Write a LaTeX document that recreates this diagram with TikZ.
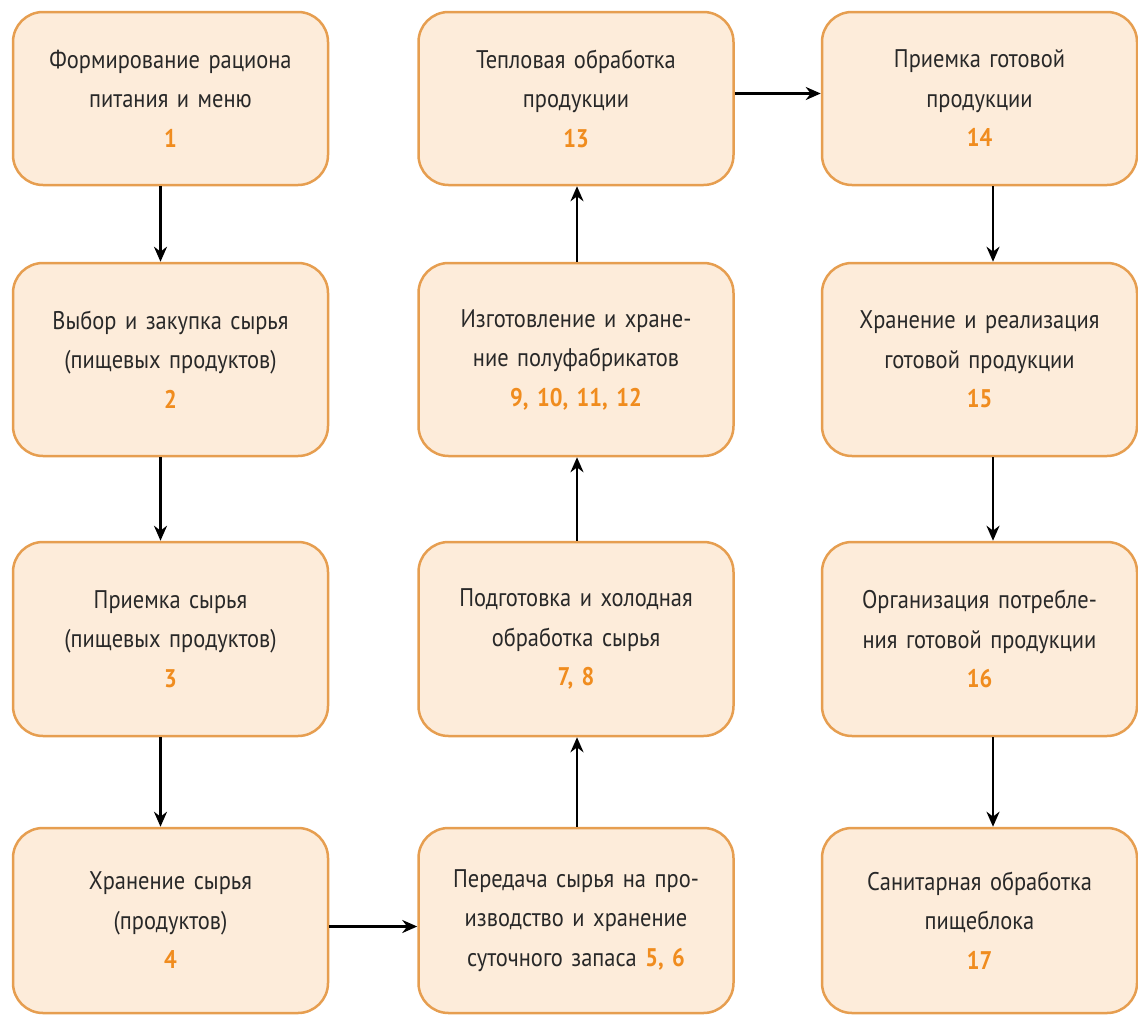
\documentclass[tikz,border=0pt]{standalone}
\usepackage{fontspec}
\setmainfont{PT Sans}[FakeStretch=0.88]
\usetikzlibrary{arrows.meta}
\definecolor{boxfill}{RGB}{253,236,218}
\definecolor{boxdraw}{RGB}{230,158,80}
\definecolor{numcol}{RGB}{240,140,30}
\definecolor{txtcol}{RGB}{40,40,40}
\newcommand\numb[1]{\textbf{\color{numcol}#1}}
\begin{document}
\begin{tikzpicture}[x=1pt,y=-1pt,
  box/.style={draw=boxdraw, fill=boxfill, line width=2.5pt, rounded corners=30pt,
    minimum width=315pt, text width=300pt, align=center, inner sep=0pt,
    font=\fontsize{25.5}{39.5}\selectfont, text=txtcol},
  arr/.style={-{Stealth[length=15pt,width=13pt]}, line width=2.8pt, black}]
\useasboundingbox (0,0) rectangle (1138,1017);
\node[box, minimum height=173pt] (n1) at (170.5,98.5) {Формирование рациона\\питания и меню\\\numb{1}};
\node[box, minimum height=193pt] (n2) at (170.5,359.5) {Выбор и закупка сырья\\(пищевых продуктов)\\\numb{2}};
\node[box, minimum height=194pt] (n3) at (170.5,639) {Приемка сырья\\(пищевых продуктов)\\\numb{3}};
\node[box, minimum height=185pt] (n4) at (170.5,920.5) {Хранение сырья\\(продуктов)\\\numb{4}};
\node[box, minimum height=185pt] (n5) at (576,920.5) {Передача сырья на про-\\изводство и хранение\\суточного запаса \numb{5, 6}};
\node[box, minimum height=194pt] (n7) at (576,639) {Подготовка и холодная\\обработка сырья\\\numb{7, 8}};
\node[box, minimum height=193pt] (n9) at (576,359.5) {Изготовление и хране-\\ние полуфабрикатов\\\numb{9, 10, 11, 12}};
\node[box, minimum height=173pt] (n13) at (576,98.5) {Тепловая обработка\\продукции\\\numb{13}};
\node[box, minimum height=173pt] (n14) at (979.5,98.5) {Приемка готовой\\продукции\\\numb{14}};
\node[box, minimum height=193pt] (n15) at (979.5,359.5) {Хранение и реализация\\готовой продукции\\\numb{15}};
\node[box, minimum height=194pt] (n16) at (979.5,639) {Организация потребле-\\ния готовой продукции\\\numb{16}};
\node[box, minimum height=185pt] (n17) at (979.5,920.5) {Санитарная обработка\\пищеблока\\\numb{17}};
\draw[arr] ([xshift=-10pt]n1.south) -- ([xshift=-10pt]n2.north);
\draw[arr] ([xshift=-10pt]n2.south) -- ([xshift=-10pt]n3.north);
\draw[arr] ([xshift=-10pt]n3.south) -- ([xshift=-10pt]n4.north);
\draw[arr] ([yshift=-6pt]n4.east) -- ([yshift=-6pt]n5.west);
\draw[arr] ([xshift=1pt]n5.north) -- ([xshift=1pt]n7.south);
\draw[arr] ([xshift=1pt]n7.north) -- ([xshift=1pt]n9.south);
\draw[arr] ([xshift=1pt]n9.north) -- ([xshift=1pt]n13.south);
\draw[arr] ([yshift=5pt]n13.east) -- ([yshift=5pt]n14.west);
\draw[arr] ([xshift=13.5pt]n14.south) -- ([xshift=13.5pt]n15.north);
\draw[arr] ([xshift=13.5pt]n15.south) -- ([xshift=13.5pt]n16.north);
\draw[arr] ([xshift=13.5pt]n16.south) -- ([xshift=13.5pt]n17.north);
\end{tikzpicture}
\end{document}
